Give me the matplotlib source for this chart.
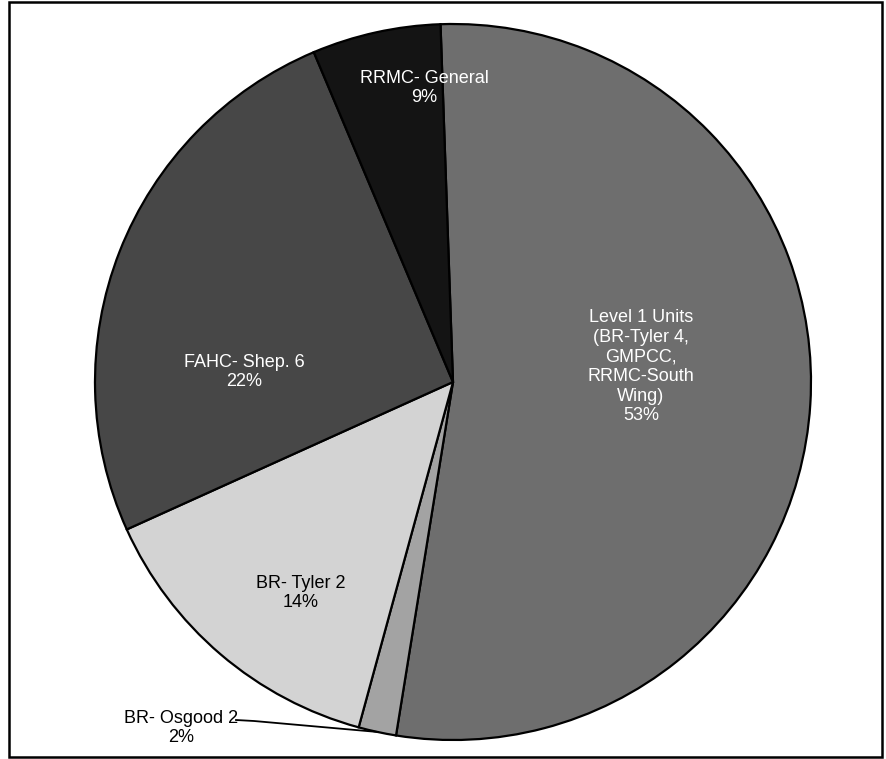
import matplotlib
matplotlib.use("Agg")
import matplotlib.pyplot as plt
from matplotlib.patches import Rectangle

# slice data, clockwise from the top
units   = ["Level 1 Units\n(BR-Tyler 4,\nGMPCC,\nRRMC-South\nWing)", "BR- Osgood 2",
           "BR- Tyler 2", "FAHC- Shep. 6", "RRMC- General"]
shares  = [53.1, 1.7, 14.0, 25.4, 5.8]
pct     = ["53%", "2%", "14%", "22%", "9%"]
colors  = ["#6e6e6e", "#a3a3a3", "#d3d3d3", "#474747", "#141414"]
txt_col = ["white", "black", "black", "white", "white"]

# label centres in pixels of the 886x759 picture (x, y from top)
label_px = [(641, 367), (181, 728), (301, 593), (244, 372), (424, 88)]

W, H = 886, 759
fig = plt.figure(figsize=(W / 100, H / 100), dpi=100)
plt.rcParams["font.family"] = ["Liberation Sans", "DejaVu Sans"]

cx, cy, r = 453, 382, 358
ax = fig.add_axes([(cx - r) / W, (H - cy - r) / H, 2 * r / W, 2 * r / H])
ax.pie(shares, colors=colors, startangle=92, counterclock=False, radius=1,
       wedgeprops=dict(edgecolor="black", linewidth=1.6))
ax.set_xlim(-1, 1)
ax.set_ylim(-1, 1)
ax.set_aspect("equal")
ax.axis("off")

for i, name in enumerate(units):
    x, y = label_px[i]
    fig.text(x / W, 1 - y / H, f"{name}\n{pct[i]}", ha="center", va="center",
             color=txt_col[i], fontsize=13, linespacing=1.2)

# leader line for the thin Osgood slice
fig.add_artist(plt.Line2D([236 / W, 254 / W, 378 / W],
                          [1 - 720 / H, 1 - 721 / H, 1 - 732 / H],
                          color="black", linewidth=1.3))

# outer frame
fig.add_artist(Rectangle((8.5 / W, 1 - 757 / H), 873 / W, 755 / H, fill=False,
                         edgecolor="black", linewidth=1.8, transform=fig.transFigure))

fig.savefig("out.png", dpi=100, facecolor="white")
